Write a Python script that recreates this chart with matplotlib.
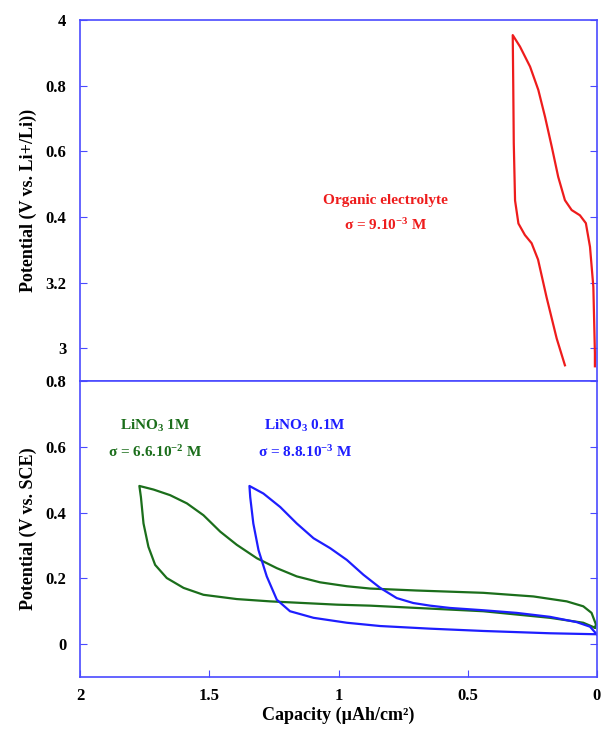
import matplotlib

matplotlib.use("Agg")
import matplotlib.pyplot as plt

plt.rcParams["font.family"] = ["Liberation Serif", "DejaVu Serif"]
plt.rcParams["font.weight"] = "bold"
plt.rcParams["mathtext.fontset"] = "custom"
plt.rcParams["mathtext.rm"] = "Liberation Serif:bold"
plt.rcParams["mathtext.it"] = "Liberation Serif:bold"
plt.rcParams["mathtext.bf"] = "Liberation Serif:bold"

# organic electrolyte (top panel), capacity in uAh/cm2, potential in V vs Li+/Li
org_cap = [0.008, 0.008, 0.014, 0.027, 0.043, 0.066, 0.098, 0.124, 0.150, 0.175,
           0.201, 0.227, 0.259, 0.298, 0.326, 0.324, 0.322, 0.317, 0.304, 0.279,
           0.253, 0.228, 0.195, 0.156, 0.124]
org_pot = [2.945, 2.985, 3.187, 3.309, 3.381, 3.405, 3.421, 3.451, 3.522, 3.614,
           3.705, 3.787, 3.858, 3.919, 3.954, 3.800, 3.625, 3.450, 3.380, 3.345,
           3.320, 3.270, 3.155, 3.030, 2.948]

# LiNO3 1M (green)
g_cap = [0.008, 0.053, 0.182, 0.440, 0.697, 0.878, 1.007, 1.136, 1.265, 1.394,
         1.523, 1.600, 1.665, 1.710, 1.736, 1.755, 1.765, 1.771, 1.716, 1.652,
         1.587, 1.523, 1.458, 1.394, 1.316, 1.239, 1.162, 1.072, 0.968, 0.878,
         0.697, 0.440, 0.246, 0.117, 0.053, 0.021, 0.004, 0.008]
g_pot = [0.050, 0.065, 0.080, 0.100, 0.110, 0.117, 0.120, 0.125, 0.130, 0.137,
         0.150, 0.171, 0.201, 0.241, 0.296, 0.367, 0.447, 0.481, 0.470, 0.453,
         0.428, 0.392, 0.342, 0.302, 0.261, 0.231, 0.206, 0.188, 0.176, 0.169,
         0.163, 0.156, 0.145, 0.130, 0.115, 0.095, 0.060, 0.050]

# LiNO3 0.1M (blue)
b_cap = [0.001, 0.182, 0.440, 0.646, 0.839, 0.968, 1.097, 1.188, 1.239, 1.278,
         1.310, 1.330, 1.342, 1.345, 1.291, 1.226, 1.162, 1.097, 1.033, 0.968,
         0.904, 0.839, 0.775, 0.711, 0.646, 0.569, 0.440, 0.311, 0.182, 0.079,
         0.027, 0.001]
b_pot = [0.030, 0.033, 0.040, 0.047, 0.055, 0.065, 0.080, 0.100, 0.135, 0.206,
         0.286, 0.367, 0.447, 0.481, 0.458, 0.417, 0.367, 0.322, 0.292, 0.256,
         0.211, 0.171, 0.140, 0.125, 0.117, 0.110, 0.103, 0.095, 0.083, 0.067,
         0.053, 0.030]

top_ticks = [3.0, 3.2, 3.4, 3.6, 3.8, 4.0]
top_ticklabels = ["3", "3.2", "0.4", "0.6", "0.8", "4"]
bot_ticks = [0, 0.2, 0.4, 0.6, 0.8]
bot_ticklabels = ["0", "0.2", "0.4", "0.6", "0.8"]
x_ticks = [0, 0.5, 1, 1.5, 2]
x_ticklabels = ["0", "0.5", "1", "1.5", "2"]

SPINE = "#4a4aff"
RED = "#ee1c1c"
GREEN = "#1b6e1b"
BLUE = "#1e1eff"

fig = plt.figure(figsize=(6.03, 7.30), dpi=100)
ax1 = fig.add_axes([0.133, 0.478, 0.857, 0.4946])
ax2 = fig.add_axes([0.133, 0.0726, 0.857, 0.4054])

for ax in (ax1, ax2):
    for sp in ax.spines.values():
        sp.set_color(SPINE)
        sp.set_linewidth(1.2)
    ax.set_xlim(2, 0)
    ax.tick_params(axis="y", direction="in", length=5, color=SPINE, right=True,
                   labelsize=12, pad=10)

ax1.plot(org_cap, org_pot, color=RED, lw=1.6)
ax1.set_ylim(2.9, 4.0)
ax1.set_yticks(top_ticks)
ax1.set_yticklabels(top_ticklabels)
ax1.set_xticks([])
ax1.set_ylabel("Potential (V vs. Li+/Li))", fontsize=13, fontweight="bold", labelpad=6)
ax1.text(0.82, 3.45, "Organic electrolyte", color=RED, fontsize=11, ha="center", va="center")
ax1.text(0.82, 3.375, "σ = 9.10$^{-3}$ M", color=RED, fontsize=11, ha="center", va="center")

ax2.plot(g_cap, g_pot, color=GREEN, lw=1.6)
ax2.plot(b_cap, b_pot, color=BLUE, lw=1.6)
ax2.set_ylim(-0.1, 0.8)
ax2.set_yticks(bot_ticks)
ax2.set_yticklabels(bot_ticklabels)
ax2.set_xticks(x_ticks)
ax2.set_xticklabels(x_ticklabels)
ax2.tick_params(axis="x", direction="in", length=5, color=SPINE, labelsize=12, pad=8)
ax2.set_ylabel("Potential (V vs. SCE)", fontsize=13, fontweight="bold", labelpad=6)
ax2.set_xlabel("Capacity (µAh/cm²)", fontsize=13, fontweight="bold", labelpad=2)
ax2.text(1.71, 0.665, "LiNO$_3$ 1M", color=GREEN, fontsize=11, ha="center", va="center")
ax2.text(1.71, 0.585, "σ = 6.6.10$^{-2}$ M", color=GREEN, fontsize=11, ha="center", va="center")
ax2.text(1.13, 0.665, "LiNO$_3$ 0.1M", color=BLUE, fontsize=11, ha="center", va="center")
ax2.text(1.13, 0.585, "σ = 8.8.10$^{-3}$ M", color=BLUE, fontsize=11, ha="center", va="center")

fig.savefig("out.png", dpi=100)
